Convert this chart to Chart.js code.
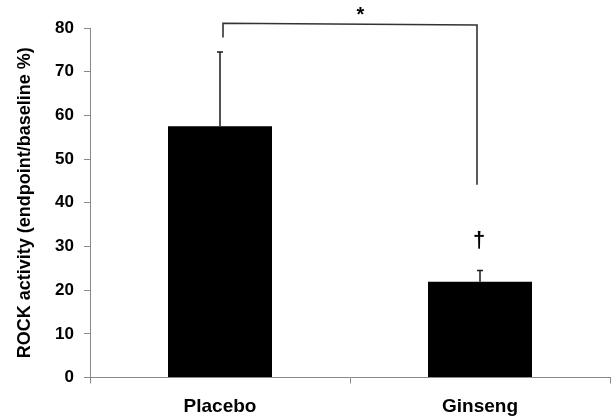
<!DOCTYPE html>
<html><head><meta charset="utf-8">
<script src="https://cdn.jsdelivr.net/npm/chart.js@4"></script>
<style>html,body{margin:0;padding:0;background:#fff}#wrap{width:611px;height:418px}</style>
</head><body><div id="wrap"><canvas id="c" width="611" height="418"></canvas></div>
<script>
const categories = ["Placebo", "Ginseng"];
const means = [57.5, 21.9];
const errorsUp = [17.0, 2.6];
const yTicks = [0, 10, 20, 30, 40, 50, 60, 70, 80];
const yTitle = "ROCK activity (endpoint/baseline %)";
const bracketTopY = [81.1, 80.7];
const bracketLegEnd = [77.8, 44.1];
const starLabel = "*";
const starY = 83.6;
const daggerLabel = "\u2020";
const daggerY = 31.2;

const FONT = "'Liberation Sans', Arial, sans-serif";

const overlay = {
  id: 'overlay',
  afterDatasetsDraw(chart) {
    const ctx = chart.ctx, xs = chart.scales.x, ys = chart.scales.y;
    ctx.save();
    // error bars
    ctx.strokeStyle = '#1a1a1a';
    ctx.lineWidth = 1.5;
    means.forEach((m, i) => {
      const x = xs.getPixelForValue(i);
      const y0 = ys.getPixelForValue(m);
      const y1 = ys.getPixelForValue(m + errorsUp[i]);
      ctx.beginPath();
      ctx.moveTo(x, y0); ctx.lineTo(x, y1);
      ctx.moveTo(x - 3, y1); ctx.lineTo(x + 3, y1);
      ctx.stroke();
    });
    // bracket
    ctx.strokeStyle = '#333';
    ctx.lineWidth = 1.6;
    const xl = xs.getPixelForValue(0) + 3, xr = xs.getPixelForValue(1) - 3;
    ctx.beginPath();
    ctx.moveTo(xl, ys.getPixelForValue(bracketLegEnd[0]));
    ctx.lineTo(xl, ys.getPixelForValue(bracketTopY[0]));
    ctx.lineTo(xr, ys.getPixelForValue(bracketTopY[1]));
    ctx.lineTo(xr, ys.getPixelForValue(bracketLegEnd[1]));
    ctx.stroke();
    // asterisk
    ctx.fillStyle = '#000';
    ctx.textAlign = 'center';
    ctx.textBaseline = 'middle';
    ctx.font = 'bold 20px ' + FONT;
    ctx.fillText(starLabel, xs.getPixelForValue(0.54), ys.getPixelForValue(starY) + 3);
    // dagger
    ctx.font = 'bold 22px ' + FONT;
    ctx.fillText(daggerLabel, xs.getPixelForValue(1) - 1, ys.getPixelForValue(daggerY));
    ctx.restore();
  }
};

new Chart(document.getElementById('c'), {
  type: 'bar',
  data: {
    labels: categories,
    datasets: [{
      data: means,
      backgroundColor: '#000',
      borderWidth: 0,
      barPercentage: 0.4,
      categoryPercentage: 1.0
    }]
  },
  options: {
    responsive: false,
    animation: false,
    layout: { padding: { top: 28, right: 1, left: 0, bottom: 0 } },
    plugins: { legend: { display: false }, tooltip: { enabled: false } },
    scales: {
      x: {
        offset: true,
        grid: { drawOnChartArea: false, drawTicks: true, tickLength: 6, color: '#888', offset: true },
        border: { color: '#888', width: 1 },
        ticks: { font: { family: FONT, size: 19, weight: 'bold' }, color: '#000', padding: 12 },
        afterFit(s) { s.height = 40.5; }
      },
      y: {
        min: 0, max: 80,
        afterBuildTicks(s) { s.ticks = yTicks.map(v => ({ value: v })); },
        ticks: { font: { family: FONT, size: 17, weight: 'bold' }, color: '#000', padding: 10 },
        grid: { drawOnChartArea: false, drawTicks: true, tickLength: 6, color: '#888' },
        border: { color: '#888', width: 1 },
        title: { display: true, text: yTitle, font: { family: FONT, size: 18, weight: 'bold' }, color: '#000', padding: { top: 14, bottom: 0 } },
        afterFit(s) { s.width = 90; }
      }
    }
  },
  plugins: [overlay]
});
</script>
</body></html>
